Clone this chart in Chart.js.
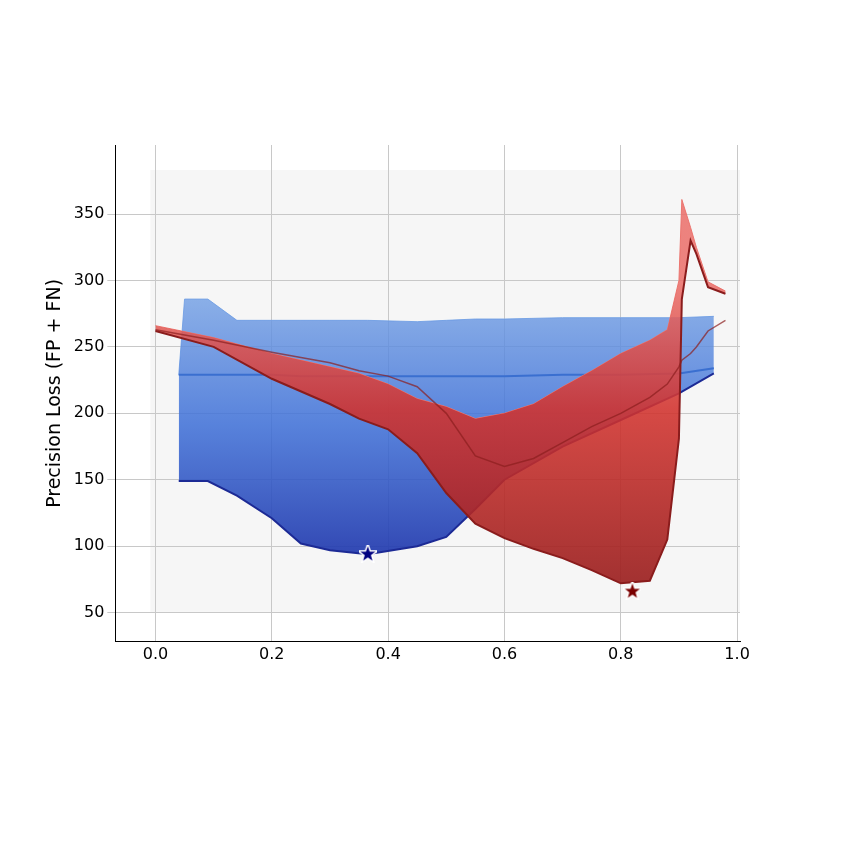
<!DOCTYPE html><html><head><script src="https://cdn.jsdelivr.net/npm/chart.js@4"></script>
<style>body{margin:0;background:#fff}</style></head><body><canvas id="c" width="852" height="852"></canvas>
<script>
const blueX=[0.04,0.05,0.09,0.14,0.2,0.25,0.3,0.365,0.45,0.5,0.55,0.6,0.7,0.8,0.9,0.96];
const blueTop=[229,286,286,270,270,270,270,270,269,270,271,271,272,272,272,273];
const blueBot=[149,149,149,138,121,102,97,94,100,107,128,150,175,195,215,230];
const blueMid=[229,229,229,229,229,228,228,228,228,228,228,228,229,229,230,234];
const redX=[0,0.1,0.2,0.3,0.35,0.4,0.45,0.5,0.55,0.6,0.65,0.7,0.75,0.8,0.85,0.88,0.9,0.905,0.92,0.93,0.95,0.98];
const redTop=[266,257,245,235,230,222,211,205,196,200,207,220,232,245,255,263,300,361,340,325,299,292];
const redMid=[263,255,246,238,232,228,220,200,168,160,166,178,190,200,212,222,235,240,245,250,262,270];
const redBot=[262,250,226,207,196,188,170,140,117,106,98,91,82,72,74,105,181,286,330,320,295,290];
const starX=[0.365,0.82], starY=[94,66];
const pts=(xs,ys)=>xs.map((x,i)=>({x,y:ys[i]}));
function star(col){const c=document.createElement('canvas');c.width=c.height=18;const g=c.getContext('2d');g.translate(9,9);g.beginPath();for(let i=0;i<10;i++){const r=i%2?3.2:8,a=-Math.PI/2+i*Math.PI/5;g.lineTo(r*Math.cos(a),r*Math.sin(a));}g.closePath();g.strokeStyle='#fff';g.lineWidth=3;g.stroke();g.fillStyle=col;g.fill();return c;}
function grad(stops){return ctx=>{const ch=ctx.chart,a=ch.chartArea;if(!a)return stops[0][1];const y=ch.scales.y;const g=ch.ctx.createLinearGradient(0,y.getPixelForValue(300),0,y.getPixelForValue(60));stops.forEach(s=>g.addColorStop(s[0],s[1]));return g;};}
const bg={id:'bg',beforeDraw(c){const a=c.chartArea,g=c.ctx;g.save();g.fillStyle='#f6f6f6';g.fillRect(a.left+35,a.top+25,a.width-35,a.height-55);g.restore();}};
new Chart(document.getElementById('c'),{type:'line',plugins:[bg],data:{datasets:[
{data:pts(blueX,blueTop),borderColor:'rgba(120,165,230,0.9)',borderWidth:1,pointRadius:0,fill:false,order:9},
{data:pts(blueX,blueBot),borderColor:'#1c2a95',borderWidth:2,pointRadius:0,fill:0,order:8,backgroundColor:grad([[0,'rgba(120,165,230,0.8)'],[0.45,'rgba(60,110,215,0.85)'],[1,'rgba(25,40,160,0.95)']])},
{data:pts(blueX,blueMid),borderColor:'#3a6fd0',borderWidth:2,pointRadius:0,fill:false,order:7},
{data:pts(redX,redTop),borderColor:'#ec7a74',borderWidth:1,pointRadius:0,fill:false,order:6},
{data:pts(redX,redBot),borderColor:'#8a1c1c',borderWidth:2,pointRadius:0,fill:3,order:5,backgroundColor:grad([[0,'rgba(235,110,105,0.85)'],[0.4,'rgba(210,50,45,0.88)'],[1,'rgba(150,30,30,0.92)']])},
{data:pts(redX,redMid),borderColor:'rgba(140,30,30,0.7)',borderWidth:1.5,pointRadius:0,fill:false,order:4},
{type:'scatter',data:[{x:starX[0],y:starY[0]}],pointStyle:star('#000080'),order:1},
{type:'scatter',data:[{x:starX[1],y:starY[1]}],pointStyle:star('#7a0000'),order:1}
]},options:{responsive:false,animation:false,layout:{padding:{left:40,right:112,top:145,bottom:185}},
plugins:{legend:{display:false},tooltip:{enabled:false}},
scales:{x:{type:'linear',min:-0.069,max:1.005,afterBuildTicks(s){s.ticks=[0,0.2,0.4,0.6,0.8,1].map(v=>({value:v}));},
ticks:{callback:v=>v.toFixed(1),color:'#000',font:{size:16,family:'DejaVu Sans'}},grid:{color:'#c8c8c8',drawTicks:false},border:{color:'#000'}},
y:{min:28,max:402,afterBuildTicks(s){s.ticks=[50,100,150,200,250,300,350].map(v=>({value:v}));},
ticks:{color:'#000',font:{size:16,family:'DejaVu Sans'}},grid:{color:'#c8c8c8'},border:{color:'#000'},
title:{display:true,text:'Precision Loss (FP + FN)',color:'#000',font:{size:19,family:'DejaVu Sans'}}}}}});
</script>
</body></html>
